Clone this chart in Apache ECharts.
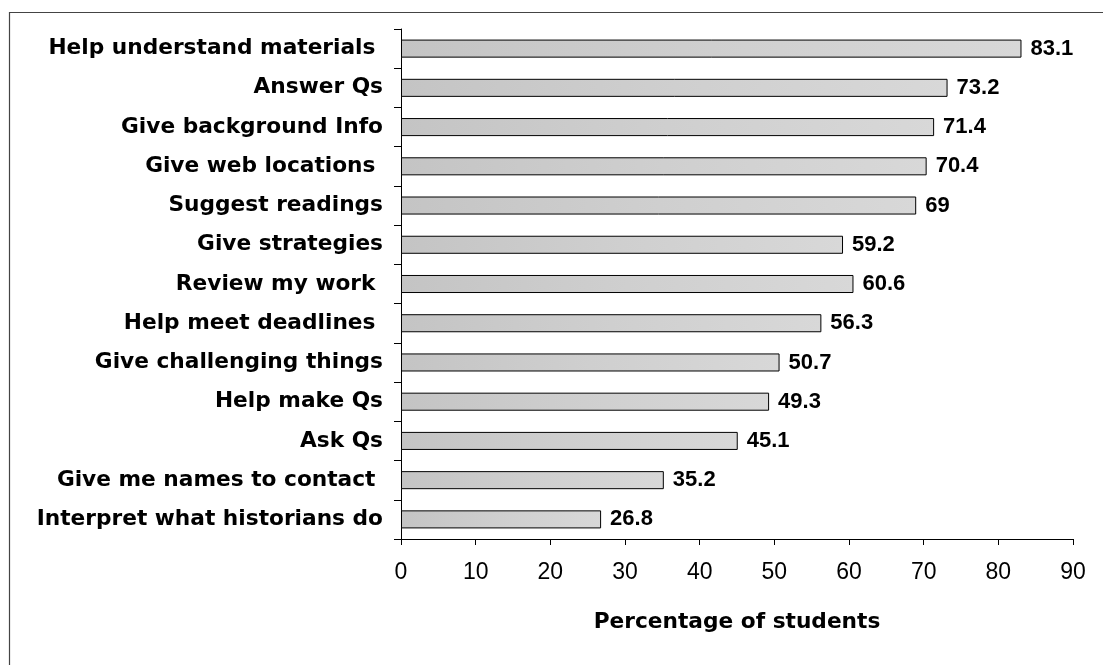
<!DOCTYPE html>
<html>
<head>
<meta charset="utf-8">
<script src="https://cdn.jsdelivr.net/npm/echarts@6/dist/echarts.min.js"></script>
<style>
  html, body { margin: 0; padding: 0; background: #fff; }
  #chart { width: 1103px; height: 665px; }
</style>
</head>
<body>
<div id="chart"></div>
<script>
// Ways the instructor helps, top to bottom
const categories = [
  'Help understand materials ',
  'Answer Qs',
  'Give background Info',
  'Give web locations ',
  'Suggest readings',
  'Give strategies',
  'Review my work ',
  'Help meet deadlines ',
  'Give challenging things',
  'Help make Qs',
  'Ask Qs',
  'Give me names to contact ',
  'Interpret what historians do'
];
// Percentage of students for each item
const percentages = [83.1, 73.2, 71.4, 70.4, 69, 59.2, 60.6, 56.3, 50.7, 49.3, 45.1, 35.2, 26.8];
const xTicks = { min: 0, max: 90, interval: 10 };

const chart = echarts.init(document.getElementById('chart'));
chart.setOption({
  animation: false,
  backgroundColor: '#ffffff',
  graphic: [{
    type: 'rect',
    left: 7, top: 10,
    shape: { width: 1200, height: 800 },
    style: { fill: 'none', stroke: '#444', lineWidth: 1.2 },
    silent: true
  }],
  grid: { left: 401, right: 30, top: 29, bottom: 126, containLabel: false },
  xAxis: {
    type: 'value',
    min: xTicks.min, max: xTicks.max, interval: xTicks.interval,
    name: 'Percentage of students',
    nameLocation: 'middle',
    nameGap: 72,
    nameTextStyle: { fontFamily: 'DejaVu Sans', fontWeight: 'bold', fontSize: 21.7, color: '#000' },
    axisLine: { show: true, lineStyle: { color: '#000', width: 1 } },
    axisTick: { show: true, length: 6, lineStyle: { color: '#000' } },
    axisLabel: { margin: 22, fontFamily: 'Liberation Sans', fontSize: 23, color: '#000' },
    splitLine: { show: false }
  },
  yAxis: {
    type: 'category',
    data: categories,
    inverse: true,
    axisLine: { show: true, lineStyle: { color: '#000', width: 1 } },
    axisTick: { show: true, length: 7, lineStyle: { color: '#000' } },
    axisLabel: { margin: 18, fontFamily: 'DejaVu Sans', fontWeight: 'bold', fontSize: 21.7, color: '#000' }
  },
  series: [{
    type: 'bar',
    data: percentages,
    barCategoryGap: '54%',
    itemStyle: {
      color: new echarts.graphic.LinearGradient(0, 0, 1, 0, [
        { offset: 0, color: '#c4c4c4' },
        { offset: 0.5, color: '#cfcfcf' },
        { offset: 1, color: '#d8d8d8' }
      ]),
      borderColor: '#000',
      borderWidth: 1
    },
    label: {
      show: true,
      position: 'right',
      distance: 9,
      fontFamily: 'Liberation Sans',
      fontWeight: 'bold',
      fontSize: 22,
      color: '#000'
    }
  }]
});
</script>
</body>
</html>
